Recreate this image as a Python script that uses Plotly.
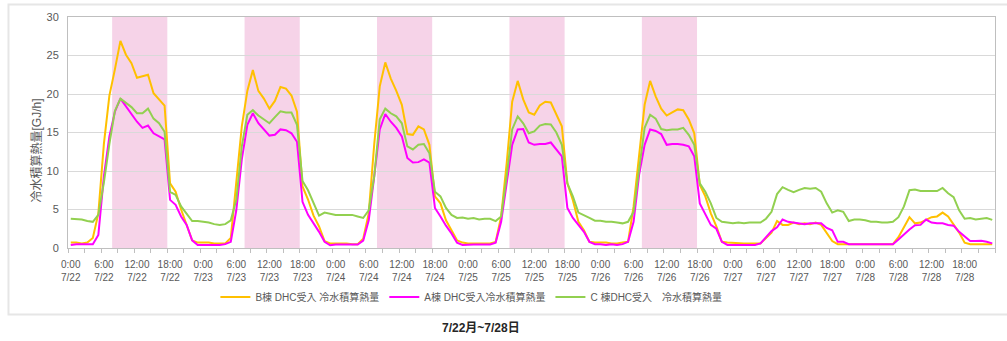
import plotly.graph_objects as go

# Hourly chilled-water heat (GJ/h), 24 values per day, 7/22 0:00 - 7/28 23:00
dates = ["7/22", "7/23", "7/24", "7/25", "7/26", "7/27", "7/28"]
label_hours = ["0:00", "6:00", "12:00", "18:00"]
office_days = ["7/22", "7/23", "7/24", "7/25", "7/26"]
office_hours = [8, 17]  # first and last shaded hour

b_building = [
    0.7, 0.7, 0.6, 0.7, 1.3, 4.5, 13.5, 19.8, 23.2, 26.9, 25.1, 24.0, 22.1, 22.3, 22.5, 20.1, 19.3, 18.5, 8.4, 7.3, 5.0, 3.0, 1.0, 0.7,
    0.7, 0.7, 0.6, 0.6, 0.6, 1.3, 9.0, 15.8, 20.4, 23.1, 20.4, 19.4, 18.1, 19.1, 20.9, 20.7, 19.8, 17.7, 8.0, 6.3, 4.2, 2.8, 0.9, 0.6,
    0.6, 0.6, 0.6, 0.5, 0.5, 1.2, 4.5, 13.5, 21.0, 24.1, 22.0, 20.4, 18.6, 14.8, 14.7, 15.8, 15.4, 13.4, 6.7, 5.8, 3.6, 2.3, 1.0, 0.7,
    0.6, 0.6, 0.6, 0.6, 0.6, 0.8, 4.1, 11.0, 19.0, 21.7, 19.3, 17.6, 17.3, 18.5, 19.0, 18.9, 17.3, 15.8, 8.4, 6.2, 3.4, 2.3, 0.8, 0.7,
    0.7, 0.7, 0.6, 0.6, 0.7, 0.8, 5.4, 12.3, 18.6, 21.7, 19.7, 18.1, 17.2, 17.6, 18.0, 17.9, 16.7, 14.9, 8.2, 6.7, 4.5, 2.8, 0.8, 0.7,
    0.65, 0.65, 0.6, 0.6, 0.6, 0.6, 1.3, 2.0, 3.5, 3.0, 3.0, 3.3, 3.1, 3.2, 3.1, 3.3, 3.0, 2.0, 0.9, 0.5, 0.5, 0.5, 0.5, 0.5,
    0.5, 0.5, 0.5, 0.5, 0.5, 0.5, 1.4, 2.7, 4.0, 3.2, 3.3, 3.65, 4.0, 4.1, 4.6, 4.1, 3.1, 2.0, 0.7, 0.5, 0.5, 0.5, 0.5, 0.5,
]

a_building = [
    0.4, 0.5, 0.5, 0.5, 0.5, 1.7, 9.3, 14.5, 17.7, 19.4, 18.4, 17.3, 16.4, 15.6, 15.9, 14.9, 14.5, 14.1, 6.25, 5.6, 4.1, 3.0, 1.0, 0.4,
    0.4, 0.4, 0.4, 0.4, 0.5, 0.8, 4.9, 11.5, 16.0, 17.5, 16.2, 15.4, 14.6, 14.7, 15.4, 15.3, 14.9, 13.8, 6.0, 4.3, 3.2, 2.1, 0.8, 0.35,
    0.45, 0.45, 0.45, 0.45, 0.45, 0.95, 3.6, 9.3, 15.4, 17.4, 16.4, 15.6, 14.5, 11.7, 11.1, 11.15, 11.5, 11.1, 5.2, 4.1, 2.9, 1.9, 0.7, 0.4,
    0.45, 0.45, 0.45, 0.45, 0.45, 0.7, 3.4, 8.4, 13.4, 15.4, 15.45, 13.7, 13.4, 13.5, 13.5, 13.7, 12.8, 11.9, 5.2, 3.9, 3.0, 2.1, 0.8, 0.5,
    0.5, 0.4, 0.5, 0.4, 0.5, 0.8, 3.4, 9.5, 13.4, 15.4, 15.2, 14.8, 13.4, 13.5, 13.5, 13.4, 13.2, 11.9, 5.8, 4.5, 3.0, 2.5, 0.8, 0.4,
    0.4, 0.4, 0.4, 0.4, 0.4, 0.6, 1.4, 2.2, 2.7, 3.7, 3.4, 3.3, 3.2, 3.1, 3.2, 3.2, 3.2, 2.6, 2.3, 0.8, 0.8, 0.5, 0.5, 0.5,
    0.5, 0.5, 0.5, 0.5, 0.5, 0.5, 1.1, 1.8, 2.4, 2.95, 3.0, 3.7, 3.3, 3.2, 3.2, 3.0, 2.9, 2.1, 1.5, 0.9, 0.9, 0.95, 0.8, 0.6,
]

c_building = [
    3.8, 3.75, 3.7, 3.5, 3.4, 4.3, 8.5, 13.5, 17.8, 19.4, 18.9, 18.3, 17.5, 17.5, 18.1, 16.8, 16.2, 15.1, 7.3, 6.9, 5.4, 4.5, 3.5, 3.5,
    3.4, 3.3, 3.1, 3.0, 3.1, 3.6, 6.25, 13.2, 17.3, 17.9, 17.2, 16.7, 16.2, 17.0, 17.75, 17.6, 17.6, 16.0, 8.7, 7.5, 5.8, 4.2, 4.6, 4.4,
    4.3, 4.3, 4.3, 4.3, 4.1, 3.9, 4.9, 9.3, 16.7, 18.1, 17.5, 17.1, 16.2, 13.2, 12.8, 13.4, 13.5, 12.3, 7.3, 6.7, 5.2, 4.3, 3.9, 3.95,
    3.8, 3.9, 3.7, 3.8, 3.8, 3.5, 4.1, 9.3, 15.4, 17.1, 16.2, 14.9, 15.15, 15.9, 16.1, 16.05, 15.0, 13.4, 8.4, 6.7, 4.6, 4.2, 3.9, 3.55,
    3.55, 3.4, 3.4, 3.3, 3.2, 3.4, 4.7, 10.2, 15.6, 17.3, 16.8, 15.45, 15.3, 15.4, 15.4, 15.6, 14.7, 13.4, 8.4, 7.3, 5.8, 3.9, 3.4, 3.3,
    3.2, 3.3, 3.2, 3.3, 3.3, 3.3, 3.8, 4.7, 7.0, 7.9, 7.55, 7.25, 7.55, 7.8, 7.7, 7.8, 7.3, 5.8, 4.6, 4.9, 4.7, 3.5, 3.7, 3.7,
    3.6, 3.4, 3.4, 3.3, 3.3, 3.4, 4.0, 5.4, 7.5, 7.6, 7.4, 7.4, 7.4, 7.4, 7.8, 7.1, 6.6, 4.9, 3.8, 3.9, 3.7, 3.8, 3.9, 3.65,
]

series = [
    ("B棟 DHC受入 冷水積算熱量", b_building, "#FFC000"),
    ("A棟 DHC受入冷水積算熱量", a_building, "#FF00FF"),
    ("C 棟DHC受入　冷水積算熱量", c_building, "#92D050"),
]

hours = list(range(len(dates) * 24))

FONT = "Liberation Sans, Noto Sans CJK JP, sans-serif"
GREY = "#595959"

fig = go.Figure()
for name, values, color in series:
    fig.add_trace(go.Scatter(
        x=hours, y=values, name=name, mode="lines",
        line=dict(color=color, width=2),
    ))

# Office-hours bands on weekdays (one category = one hour)
shapes = []
for d in office_days:
    base = dates.index(d) * 24
    shapes.append(dict(
        type="rect", xref="x", yref="paper", layer="below",
        x0=base + office_hours[0] - 0.5, x1=base + office_hours[1] + 0.5,
        y0=0, y1=1, fillcolor="#F6D3E8", line=dict(width=0),
    ))
# Outer chart frame
shapes.append(dict(
    type="rect", xref="paper", yref="paper", layer="below",
    x0=-0.0642, x1=1.02, y0=-0.288, y1=1.054,
    line=dict(color="#E6E6E6", width=2), fillcolor="rgba(0,0,0,0)",
))

tickvals, ticktext = [], []
for i, d in enumerate(dates):
    for j, hl in enumerate(label_hours):
        tickvals.append(i * 24 + j * 6)
        ticktext.append(f"{hl}<br>{d}")

fig.update_layout(
    width=1007, height=341,
    margin=dict(l=68, r=12, t=17, b=93),
    paper_bgcolor="white", plot_bgcolor="white",
    font=dict(family=FONT, color=GREY, size=11),
    shapes=shapes,
    showlegend=True,
    legend=dict(
        orientation="h", x=0.159, xanchor="left", y=-0.212, yanchor="middle",
        font=dict(size=10, color=GREY),
        bgcolor="rgba(0,0,0,0)",
    ),
    annotations=[
        dict(
            text="<b>7/22月~7/28日</b>", xref="paper", yref="paper",
            x=0.445, y=-0.346, xanchor="center", yanchor="middle",
            showarrow=False, font=dict(size=12, color="#262626"),
        ),
        dict(
            text="冷水積算熱量[GJ/h]", xref="paper", yref="paper",
            x=-0.034, y=0.424, xanchor="center", yanchor="middle",
            textangle=-90, showarrow=False, font=dict(size=12, color=GREY),
        ),
    ],
)

fig.update_xaxes(
    range=[-0.5, len(hours) - 0.5],
    tickmode="array", tickvals=tickvals, ticktext=ticktext,
    tickfont=dict(size=10, color=GREY),
    ticks="", showgrid=False, zeroline=False,
    ticklabelstandoff=7,
    showline=True, linecolor="#BFBFBF", linewidth=1, mirror=True,
    minor=dict(ticks="outside", ticklen=4, tickcolor="#BFBFBF",
               tick0=-0.5, dtick=3, showgrid=False),
)
fig.update_yaxes(
    range=[0, 30], dtick=5,
    tickfont=dict(size=11, color=GREY),
    showgrid=True, gridcolor="#D9D9D9", gridwidth=1, zeroline=False,
    showline=True, linecolor="#BFBFBF", linewidth=1, mirror=True,
    ticklabelstandoff=6,
)

fig.write_html("out.html")
